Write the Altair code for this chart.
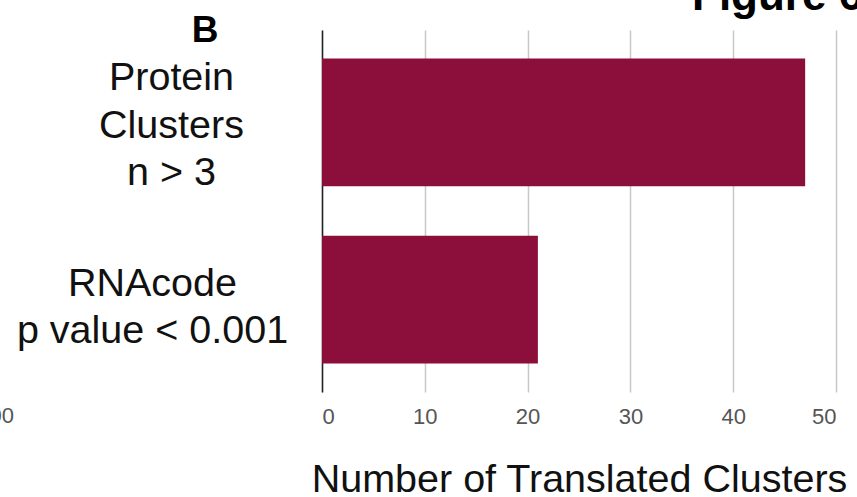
import altair as alt
import pandas as pd

categories = ["Protein\nClusters\nn > 3", "RNAcode\np value < 0.001"]
values = [47, 21]
x_ticks = [0, 10, 20, 30, 40, 50]

df = pd.DataFrame({"category": categories, "value": values})

FONT = "Liberation Sans"
BAR = "#8C0E3A"

is_first = "indexof(datum.value, 'Protein') >= 0"

bars = alt.Chart(df).mark_bar(color=BAR).encode(
    x=alt.X(
        "value:Q",
        scale=alt.Scale(domain=[0, 50], nice=False),
        axis=alt.Axis(
            values=x_ticks,
            title="Number of Translated Clusters",
            titleFont=FONT,
            titleFontSize=39.5,
            titleFontWeight="normal",
            titleColor="#111111",
            titlePadding=33,
            labelFont=FONT,
            labelFontSize=22,
            labelColor="#555555",
            labelPadding=14,
            ticks=False,
            domain=False,
            grid=True,
            gridColor="#c8c8c8",
            gridWidth=1.5,
        ),
    ),
    y=alt.Y(
        "category:N",
        sort=categories,
        scale=alt.Scale(paddingInner=0.28, paddingOuter=0.16),
        axis=alt.Axis(
            title=None,
            labelExpr="split(datum.label, '\\n')",
            labelFont=FONT,
            labelFontSize=39.5,
            labelColor="#111111",
            labelAlign="center",
            labelBaseline="middle",
            labelLineHeight=47.5,
            labelPadding={"condition": {"test": is_first, "value": 151}, "value": 170},
            labelOffset={"condition": {"test": is_first, "value": -44}, "value": -16},
            labelLimit=400,
            ticks=False,
            domain=True,
            domainColor="#222222",
            domainWidth=1.5,
            grid=False,
        ),
    ),
)

annot = pd.DataFrame({"t": ["B"]})
label_b = alt.Chart(annot).mark_text(
    font=FONT, fontSize=37, fontWeight="bold", color="#000000",
    align="center", baseline="alphabetic"
).encode(text="t:N", x=alt.value(-117), y=alt.value(12))

fig = alt.Chart(pd.DataFrame({"t": ["Figure 6"]})).mark_text(
    font=FONT, fontSize=44, fontWeight="bold", color="#000000",
    align="left", baseline="alphabetic"
).encode(text="t:N", x=alt.value(370), y=alt.value(-20))

stray = alt.Chart(pd.DataFrame({"t": ["100"]})).mark_text(
    font=FONT, fontSize=22, color="#555555",
    align="right", baseline="middle"
).encode(text="t:N", x=alt.value(-308), y=alt.value(386))

chart = alt.layer(bars, label_b, fig, stray).properties(
    width=514,
    height=362,
    autosize=alt.AutoSizeParams(type="none"),
    padding={"left": 322, "top": 30, "right": 21, "bottom": 105},
    background="white",
).configure_view(stroke=None)

chart.save("out.html", embed_options={"renderer": "svg", "actions": False})
